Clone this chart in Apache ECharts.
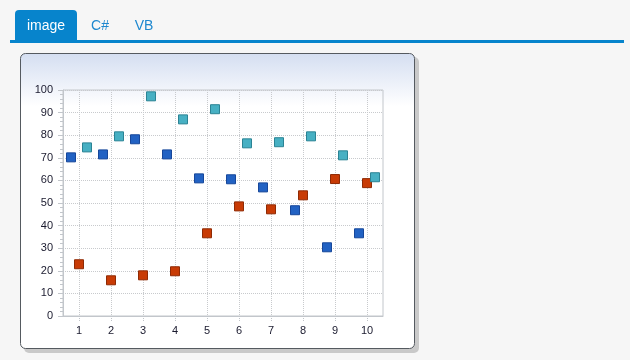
<!DOCTYPE html>
<html>
<head>
<meta charset="utf-8">
<script src="https://cdn.jsdelivr.net/npm/echarts@6/dist/echarts.min.js"></script>
<style>
html,body{margin:0;padding:0;background:#f6f6f6;}
#c{width:630px;height:360px;}
</style>
</head>
<body>
<div id="c"></div>
<script>
const categories = ['1','2','3','4','5','6','7','8','9','10'];
const blueValues = [70.2, 71.5, 78.2, 71.5, 60.9, 60.5, 56.9, 46.8, 30.4, 36.6];
const redValues  = [22.9, 15.8, 18.0, 19.8, 36.6, 48.5, 47.2, 53.4, 60.6, 58.8];
const tealValues = [74.6, 79.5, 97.2, 87.0, 91.5, 76.4, 76.9, 79.5, 71.1, 61.4];
const tabLabels = ['image', 'C#', 'VB'];

const chart = echarts.init(document.getElementById('c'), null, {renderer: 'canvas'});
const labelFont = {fontFamily: 'Liberation Sans, Arial, sans-serif', fontSize: 11, color: '#1a1a2e'};

function sq(color, border, offset) {
  return {
    symbol: 'rect', symbolSize: 9, symbolOffset: [offset, 0],
    itemStyle: {color: color, borderColor: border, borderWidth: 1, opacity: 1}
  };
}

chart.setOption({
  backgroundColor: '#f6f6f6',
  animation: false,
  graphic: [
    {type: 'rect', z: -10, shape: {x: 15, y: 10, width: 62, height: 31, r: [4, 4, 0, 0]}, style: {fill: '#0784cc'}},
    {type: 'text', z: -9, style: {x: 46, y: 26, text: tabLabels[0], fill: '#ffffff', font: '14px "Liberation Sans", Arial, sans-serif', textAlign: 'center', textVerticalAlign: 'middle'}},
    {type: 'text', z: -9, style: {x: 100, y: 26, text: tabLabels[1], fill: '#1e88cf', font: '14px "Liberation Sans", Arial, sans-serif', textAlign: 'center', textVerticalAlign: 'middle'}},
    {type: 'text', z: -9, style: {x: 144, y: 26, text: tabLabels[2], fill: '#1e88cf', font: '14px "Liberation Sans", Arial, sans-serif', textAlign: 'center', textVerticalAlign: 'middle'}},
    {type: 'rect', z: -10, shape: {x: 10, y: 40, width: 614, height: 3}, style: {fill: '#0784cc'}},
    {type: 'rect', z: -10, shape: {x: 24, y: 57, width: 395, height: 296, r: 5}, style: {fill: '#c9c9c9'}},
    {type: 'rect', z: -9, shape: {x: 20.5, y: 53.5, width: 394, height: 295, r: 5},
      style: {stroke: '#555a60', lineWidth: 1,
        fill: new echarts.graphic.LinearGradient(0, 0, 0, 1, [
          {offset: 0, color: '#d4def1'},
          {offset: 0.18, color: '#ffffff'},
          {offset: 1, color: '#ffffff'}
        ])}}
  ],
  grid: {left: 63, top: 90, width: 320, height: 226, show: true, borderColor: '#c2c6cb', borderWidth: 1, backgroundColor: 'transparent'},
  xAxis: {
    type: 'category', data: categories, boundaryGap: true,
    axisLine: {show: true, lineStyle: {color: '#c2c6cb', width: 1}},
    axisTick: {show: true, alignWithLabel: true, length: 6, lineStyle: {color: '#bfc3c8', type: 'dotted'}},
    axisLabel: Object.assign({margin: 9}, labelFont),
    splitLine: {show: true, alignWithLabel: true, lineStyle: {color: '#c8cacd', type: 'dotted'}}
  },
  yAxis: {
    type: 'value', min: 0, max: 100, interval: 10,
    axisLine: {show: true, lineStyle: {color: '#c2c6cb', width: 1}},
    axisTick: {show: true, length: 5, lineStyle: {color: '#c2c6cb'}},
    minorTick: {show: true, splitNumber: 5, length: 3, lineStyle: {color: '#c2c6cb'}},
    axisLabel: Object.assign({margin: 10}, labelFont),
    splitLine: {show: true, lineStyle: {color: '#c8cacd', type: 'dotted'}}
  },
  series: [
    Object.assign({type: 'scatter', name: 'A', data: blueValues}, sq('#2262c3', '#17479a', -8)),
    Object.assign({type: 'scatter', name: 'B', data: redValues}, sq('#c83b05', '#8f2a04', 0)),
    Object.assign({type: 'scatter', name: 'C', data: tealValues}, sq('#47b0c3', '#2b8394', 8))
  ]
});
</script>
</body>
</html>
